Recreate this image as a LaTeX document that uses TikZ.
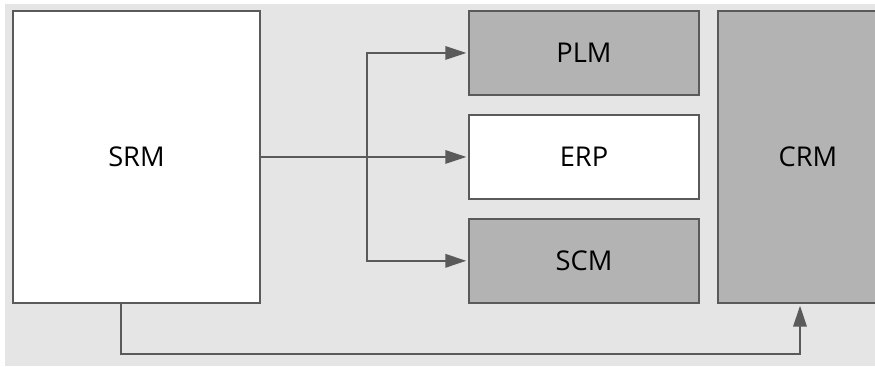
\documentclass[tikz,border=0pt]{standalone}
\usepackage{fontspec}
\setmainfont{Open Sans}
\usetikzlibrary{arrows.meta,positioning}

\definecolor{bggray}{HTML}{E5E5E5}
\definecolor{boxgray}{HTML}{B3B3B3}
\definecolor{linegray}{HTML}{5A5A5A}

\begin{document}
\begin{tikzpicture}[
	sys/.style={draw=linegray,line width=1.1pt,fill=white,inner sep=0pt,
		font=\fontsize{15.5}{18}\selectfont},
	dark/.style={sys,fill=boxgray},
	flow/.style={draw=linegray,line width=1.1pt,
		-{Triangle[length=0.42cm,width=0.27cm]},shorten >=1pt}
]
	\useasboundingbox (0,0) rectangle (17.5,7.34);
	\fill[bggray] (0.1,0.02) rectangle (17.6,7.26);

	% left: supplier side
	\node[sys,minimum width=4.94cm,minimum height=5.84cm,anchor=north west]
		(srm) at (0.24,7.14) {SRM};

	% middle column
	\node[dark,minimum width=4.6cm,minimum height=1.68cm,anchor=north west]
		(plm) at (9.36,7.14) {PLM};
	\node[sys,minimum width=4.6cm,minimum height=1.68cm,below=0.36cm of plm]
		(erp) {ERP};
	\node[dark,minimum width=4.6cm,minimum height=1.68cm,below=0.36cm of erp]
		(scm) {SCM};

	% right: customer side
	\node[dark,minimum width=3.6cm,minimum height=5.84cm,anchor=north west]
		(crm) at (14.34,7.14) {CRM};

	\coordinate (split) at (7.34,0 |- srm.east);
	\coordinate (low) at (2.42,0.26);
	\coordinate (up) at (16.0,0.26);

	\draw[flow] (srm.east) -- (srm.east -| erp.west);
	\draw[flow] (split) |- (plm.west);
	\draw[flow] (split) |- (scm.west);
	\draw[flow] (srm.south -| low) -- (low) -- (up) -- (up |- crm.south);
\end{tikzpicture}
\end{document}
